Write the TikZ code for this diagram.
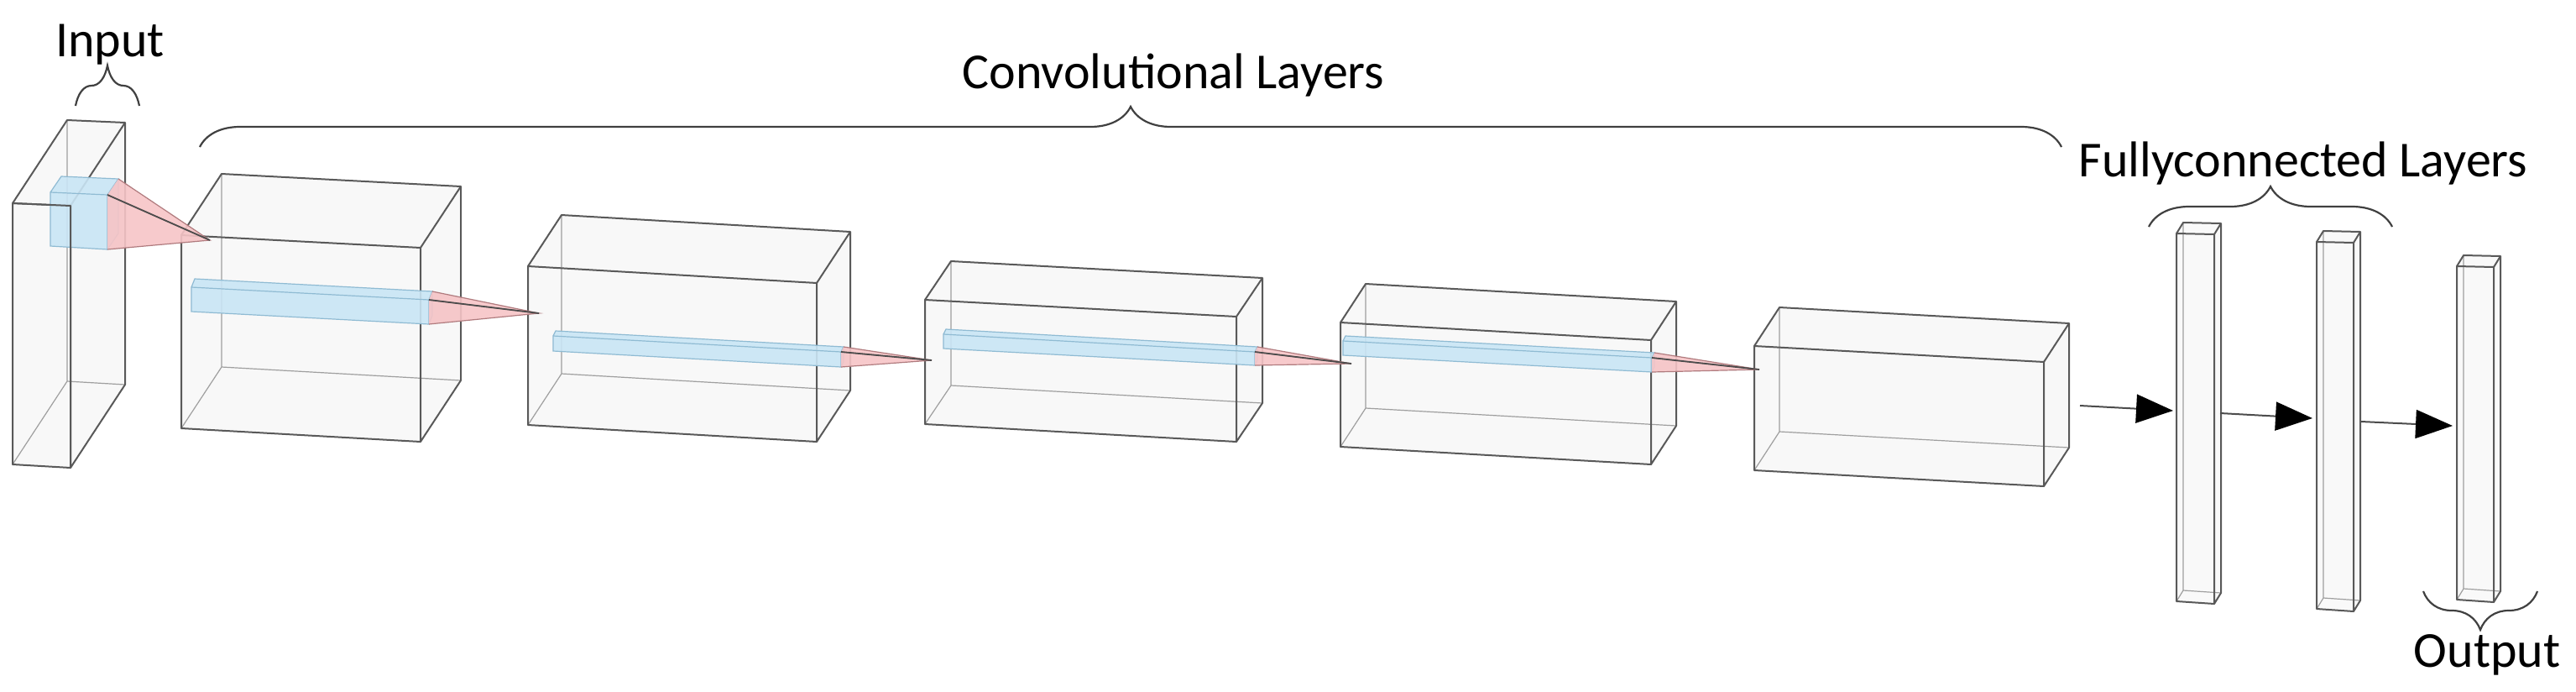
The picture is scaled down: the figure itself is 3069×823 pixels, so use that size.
\documentclass[tikz,border=0pt]{standalone}
\usepackage{fontspec}
\setmainfont{Carlito}
\usetikzlibrary{calc,arrows.meta,decorations.pathreplacing}
\definecolor{kblue}{HTML}{C9E5F5}
\definecolor{kblueline}{HTML}{8FBBD3}
\definecolor{kred}{HTML}{F6C4C6}
\definecolor{kredline}{HTML}{B07B7E}
\newcommand\cubo[6]{%
 \coordinate (#1a) at (#2); \coordinate (#1b) at (#3);
 \coordinate (#1c) at (#4); \coordinate (#1d) at (#5);
 \coordinate (#1e) at ($(#1a)+(#6)$); \coordinate (#1f) at ($(#1b)+(#6)$);
 \coordinate (#1g) at ($(#1c)+(#6)$); \coordinate (#1h) at ($(#1d)+(#6)$);
}
\newcommand\boxdraw[2]{%
 \fill[#2] (#1a)--(#1e)--(#1f)--(#1g)--(#1c)--(#1d)--cycle;
 \draw[backedge] (#1h)--(#1e) (#1h)--(#1g) (#1h)--(#1d);
 \draw[frontedge] (#1a)--(#1b)--(#1c)--(#1d)--cycle (#1a)--(#1e)--(#1f)--(#1g)--(#1c) (#1b)--(#1f);
}
\newcommand\bardraw[1]{%
 \fill[bluefill] (#1a)--(#1e)--(#1f)--(#1g)--(#1c)--(#1d)--cycle;
 \draw[blueedge] (#1a)--(#1b)--(#1c)--(#1d)--cycle (#1a)--(#1e)--(#1f)--(#1b) (#1f)--(#1g)--(#1c);
}
\newcommand\conedraw[2]{%
 \fill[redfill] (#1f)--(#2)--(#1c)--(#1b)--cycle;
 \draw[rededge] (#1b)--(#2)--(#1c) (#1f)--(#2);
 \draw[darkline] (#1b)--(#2);
}
\tikzset{
 boxfill/.style={fill=gray!8, fill opacity=0.75},
 fcfill/.style={fill=gray!6, fill opacity=0.8},
 backedge/.style={draw=gray!75, line width=1.2pt},
 frontedge/.style={draw=black!65, line width=2pt, line join=round},
 bluefill/.style={fill=kblue, fill opacity=0.9},
 blueedge/.style={draw=kblueline, line width=1.2pt},
 redfill/.style={fill=kred, fill opacity=0.9},
 rededge/.style={draw=kredline, line width=1.2pt},
 darkline/.style={draw=black!70, line width=1.8pt},
 lab/.style={font=\fontsize{60}{66}\selectfont, inner sep=0pt, anchor=base},
 br/.style={decorate, decoration={brace, amplitude=48pt}, line width=2.2pt, draw=black!75},
 arr/.style={draw=black!70, line width=2pt, -{Triangle[length=44pt,width=34pt,fill=black,color=black]}},
}
\begin{document}
\begin{tikzpicture}[x=1pt,y=-1pt]
\useasboundingbox (0,0) rectangle (3069,823);
% cuboids
\cubo{in}{15,242}{84,245}{84,557}{15,553}{65,-99}
\cubo{c1}{216,280}{501,295}{501,526}{216,510}{48,-73}
\cubo{c2}{629,317}{973,337}{973,526}{629,506}{40,-61}
\cubo{c3}{1102,357}{1473,377}{1473,526}{1102,505}{31,-46}
\cubo{c4}{1597,384}{1967,405}{1967,553}{1597,532}{30,-46}
\cubo{c5}{2090,412}{2435,431}{2435,579}{2090,560}{30,-46}
\cubo{f1}{2593,278}{2638,279}{2638,719}{2593,716}{8,-13}
\cubo{f2}{2760,288}{2804,289}{2804,728}{2760,725}{8,-13}
\cubo{f3}{2927,317}{2971,318}{2971,717}{2927,714}{8,-13}
% blue kernels / bars
\cubo{bi}{60,229}{128,232}{128,297}{60,293}{13,-19}
\cubo{b1}{228,342}{511,357}{511,386}{228,371}{4,-10}
\cubo{b2}{659,400}{1002,419}{1002,437}{659,418}{3,-6}
\cubo{b3}{1124,398}{1495,419}{1495,435}{1124,415}{3,-6}
\cubo{b4}{1600,406}{1968,426}{1968,443}{1600,423}{3,-6}
\coordinate (pi) at (250,286);
\coordinate (p1) at (642,373);
\coordinate (p2) at (1110,429);
\coordinate (p3) at (1610,433);
\coordinate (p4) at (2096,440);

\boxdraw{in}{boxfill}
\bardraw{bi}
\draw[frontedge] (ina)--(inb)--(inc);
\boxdraw{c1}{boxfill}
\conedraw{bi}{pi}
\bardraw{b1}
\boxdraw{c2}{boxfill}
\conedraw{b1}{p1}
\bardraw{b2}
\boxdraw{c3}{boxfill}
\conedraw{b2}{p2}
\bardraw{b3}
\boxdraw{c4}{boxfill}
\conedraw{b3}{p3}
\bardraw{b4}
\boxdraw{c5}{boxfill}
\conedraw{b4}{p4}
\boxdraw{f1}{fcfill}
\boxdraw{f2}{fcfill}
\boxdraw{f3}{fcfill}

% arrows
\coordinate (a0) at (2478,483);
\coordinate (a1) at (2589,489);
\coordinate (a2) at (2645,492);
\coordinate (a3) at (2755,498);
\coordinate (a4) at (2813,502);
\coordinate (a5) at (2922,507);
\draw[arr] (a0) -- (a1);
\draw[arr] (a2) -- (a3);
\draw[arr] (a4) -- (a5);

% braces
\coordinate (bl1) at (90,126); \coordinate (br1) at (166,126);
\coordinate (bl2) at (238,175); \coordinate (br2) at (2456,175);
\coordinate (bl3) at (2560,270); \coordinate (br3) at (2850,270);
\coordinate (bl4) at (2887,704); \coordinate (br4) at (3023,704);
\draw[br] (bl1) -- (br1);
\draw[br] (bl2) -- (br2);
\draw[br] (bl3) -- (br3);
\draw[br, decoration={amplitude=46pt}] (br4) -- (bl4);

% labels
\node[lab] (tin) at (131,67) {Input};
\node[lab] (tconv) at (1398,105) {Convolutional Layers};
\node[lab] (tfc) at (2744,210) {Fullyconnected Layers};
\node[lab] (tout) at (2963,794) {Output};
\end{tikzpicture}
\end{document}
